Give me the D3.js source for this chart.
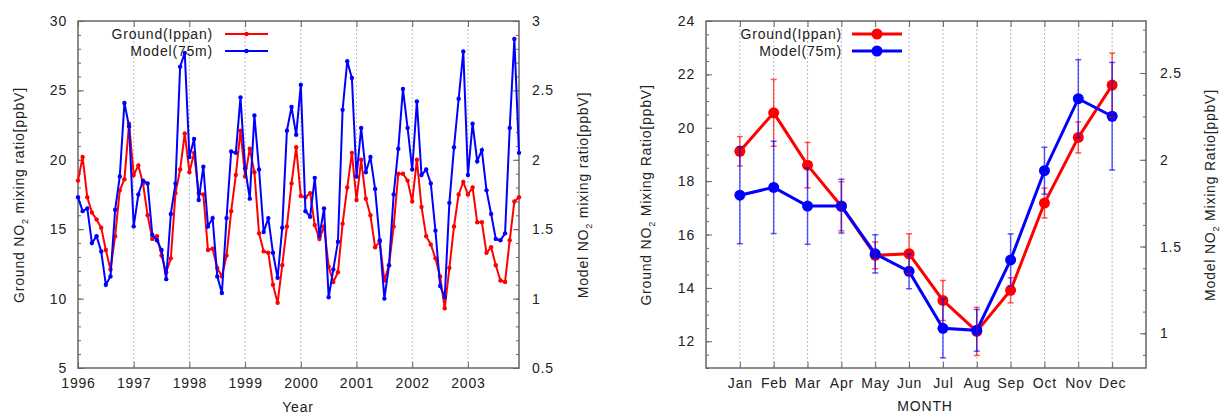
<!DOCTYPE html>
<html><head><meta charset="utf-8">
<script src="https://cdn.jsdelivr.net/npm/d3@7"></script>
<style>
body{margin:0;background:#fff;}
svg text{font-family:"Liberation Sans",Arial,sans-serif;font-size:14px;fill:#222;letter-spacing:0.8px;}
</style></head><body>
<svg id="c" width="1222" height="414"></svg>
<script>
// ---------- data ----------
const yearTicks = [1996,1997,1998,1999,2000,2001,2002,2003];
const groundYTicks = [5,10,15,20,25,30];
const modelYTicks = [0.5,1,1.5,2,2.5,3];
// monthly series Jan 1996 .. Dec 2003
const groundSeries = [
 18.5,20.2,17.3,16.2,15.7,15.1,13.5,12.1,14.5,17.8,18.6,22.6,
 18.9,19.6,18.3,16.0,14.3,14.5,13.1,11.9,12.9,17.6,19.3,21.9,
 19.1,20.5,17.6,17.5,13.5,13.6,12.2,11.6,13.1,16.3,18.9,22.1,
 18.8,20.8,19.1,14.7,13.4,13.3,11.0,9.7,12.4,15.2,18.3,20.9,
 17.4,17.3,17.6,15.3,14.3,15.2,12.3,11.2,11.9,15.4,18.0,20.5,
 17.1,20.0,17.2,16.0,13.7,14.1,11.3,12.4,15.2,19.0,19.0,18.5,
 17.0,20.0,16.6,14.5,13.9,12.9,11.6,9.3,12.2,15.2,17.5,18.4,
 17.5,18.0,15.5,15.5,13.3,13.7,12.4,11.3,11.2,14.2,17.0,17.3
];
const modelSeries = [
 1.73,1.63,1.65,1.40,1.45,1.34,1.10,1.16,1.64,1.88,2.41,2.24,
 1.52,1.75,1.85,1.83,1.46,1.42,1.35,1.14,1.61,1.83,2.67,2.77,
 2.02,2.15,1.71,1.95,1.52,1.58,1.16,1.04,1.58,2.06,2.05,2.45,
 1.94,1.72,2.32,1.93,1.48,1.58,1.33,1.15,1.51,2.21,2.38,2.18,
 2.54,1.63,1.59,1.87,1.45,1.65,1.01,1.21,1.41,2.36,2.71,2.59,
 1.88,2.23,1.91,2.02,1.79,1.42,1.00,1.24,1.75,2.08,2.51,2.23,
 1.93,2.42,1.89,1.93,1.83,1.49,1.09,1.01,1.69,2.09,2.44,2.78,
 1.89,2.26,1.99,2.07,1.78,1.61,1.43,1.42,1.47,2.23,2.87,2.05
];
const months = ["Jan","Feb","Mar","Apr","May","Jun","Jul","Aug","Sep","Oct","Nov","Dec"];
const groundMonthly = [19.12,20.56,18.6,17.06,15.22,15.28,13.53,12.37,13.91,17.18,19.64,21.6];
const groundMonthlyErr = [0.55,1.25,0.85,0.92,0.5,0.75,0.75,0.9,0.47,0.56,0.58,1.2];
const modelMonthly = [1.796,1.841,1.733,1.733,1.458,1.357,1.029,1.017,1.423,1.937,2.352,2.251];
const modelMonthlyErr = [0.28,0.266,0.22,0.155,0.11,0.1,0.17,0.12,0.15,0.135,0.225,0.31];
const groundMonthTicks = [12,14,16,18,20,22,24];
const modelMonthTicks = [1,1.5,2,2.5];

// ---------- helpers ----------
const RED = "#ff0000", BLUE = "#0000ff", FRAME = "#666";
const svg = d3.select("#c");

function styleAxis(g){
  g.select(".domain").remove();
  g.selectAll(".tick line").attr("stroke",FRAME).attr("stroke-width",1);
  g.selectAll(".tick text").attr("fill","#222");
}
function ylabel(x,y,pre,post){
  const t = svg.append("text").attr("transform",`translate(${x},${y}) rotate(-90)`)
    .attr("text-anchor","middle").attr("dy","0.35em");
  t.append("tspan").text(pre+"NO");
  t.append("tspan").text("2").attr("font-size","9px").attr("dy","4");
  t.append("tspan").text(post).attr("dy","-4");
}

// ---------- left chart ----------
(function(){
  const x0=78,x1=519,y0=21,y1=368;
  const x = d3.scaleLinear().domain([1996,1996+95/12]).range([x0,x1]);
  const y = d3.scaleLinear().domain([5,30]).range([y1,y0]);
  const y2 = d3.scaleLinear().domain([0.5,3]).range([y1,y0]);
  const g = svg.append("g");
  // grid
  g.selectAll(".grid").data(yearTicks.slice(1)).join("line")
    .attr("x1",d=>x(d)).attr("x2",d=>x(d)).attr("y1",y0).attr("y2",y1)
    .attr("stroke","#bbb").attr("stroke-dasharray","2,2").attr("stroke-width",1);
  // axes
  g.append("g").attr("transform",`translate(${x0},0)`)
    .call(d3.axisLeft(y).tickValues(d3.range(5,31,1)).tickSize(-3).tickFormat("")).call(styleAxis);
  g.append("g").attr("transform",`translate(${x0},0)`)
    .call(d3.axisLeft(y).tickValues(groundYTicks).tickSize(-6).tickPadding(11).tickFormat(d3.format("d"))).call(styleAxis);
  g.append("g").attr("transform",`translate(${x1},0)`)
    .call(d3.axisRight(y2).tickValues(d3.range(5,31,1).map(v=>v/10)).tickSize(-3).tickFormat("")).call(styleAxis);
  g.append("g").attr("transform",`translate(${x1},0)`)
    .call(d3.axisRight(y2).tickValues(modelYTicks).tickSize(-6).tickPadding(13).tickFormat(d=>String(d))).call(styleAxis);
  g.append("g").attr("transform",`translate(0,${y1})`)
    .call(d3.axisBottom(x).tickValues(yearTicks).tickSize(-6).tickPadding(10).tickFormat(d3.format("d"))).call(styleAxis);
  g.append("g").attr("transform",`translate(0,${y0})`)
    .call(d3.axisTop(x).tickValues(yearTicks).tickSize(-6).tickFormat("")).call(styleAxis);
  g.append("rect").attr("x",x0).attr("y",y0).attr("width",x1-x0).attr("height",y1-y0)
    .attr("fill","none").attr("stroke",FRAME).attr("stroke-width",1.5);
  // series
  const xt = (d,i)=>x(1996+i/12);
  const lineG = d3.line().x(xt).y(d=>y(d));
  const lineM = d3.line().x(xt).y(d=>y2(d));
  g.append("path").datum(groundSeries).attr("d",lineG).attr("fill","none").attr("stroke",RED).attr("stroke-width",2);
  g.selectAll(".pg").data(groundSeries).join("circle").attr("cx",xt).attr("cy",d=>y(d)).attr("r",2.2).attr("fill",RED);
  g.append("path").datum(modelSeries).attr("d",lineM).attr("fill","none").attr("stroke",BLUE).attr("stroke-width",2);
  g.selectAll(".pm").data(modelSeries).join("circle").attr("cx",xt).attr("cy",d=>y2(d)).attr("r",2.2).attr("fill",BLUE);
  // legend
  [["Ground(Ippan)",RED,34],["Model(75m)",BLUE,51]].forEach(([t,c,yy])=>{
    g.append("text").attr("x",213).attr("y",yy).attr("dy","0.35em").attr("text-anchor","end").text(t);
    g.append("line").attr("x1",225).attr("x2",268).attr("y1",yy).attr("y2",yy).attr("stroke",c).attr("stroke-width",2);
    g.append("circle").attr("cx",246.5).attr("cy",yy).attr("r",2.2).attr("fill",c);
  });
  ylabel(19,195,"Ground "," mixing ratio[ppbV]");
  ylabel(583,195,"Model "," mixing ratio[ppbV]");
  svg.append("text").attr("x",298).attr("y",412).attr("text-anchor","middle").text("Year");
})();

// ---------- right chart ----------
(function(){
  const x0=706,x1=1146,y0=21,y1=368;
  const x = d3.scaleLinear().domain([0,13]).range([x0,x1]);
  const y = d3.scaleLinear().domain([11,24]).range([y1,y0]);
  const y2 = d3.scaleLinear().domain([0.8,2.8]).range([y1,y0]);
  const g = svg.append("g");
  const mi = d3.range(1,13);
  g.selectAll(".grid").data(mi).join("line")
    .attr("x1",d=>x(d)).attr("x2",d=>x(d)).attr("y1",y0).attr("y2",y1)
    .attr("stroke","#bbb").attr("stroke-dasharray","2,2").attr("stroke-width",1);
  g.append("g").attr("transform",`translate(${x0},0)`)
    .call(d3.axisLeft(y).tickValues(d3.range(11,24.01,0.5)).tickSize(-3).tickFormat("")).call(styleAxis);
  g.append("g").attr("transform",`translate(${x0},0)`)
    .call(d3.axisLeft(y).tickValues(groundMonthTicks).tickSize(-6).tickPadding(11).tickFormat(d3.format("d"))).call(styleAxis);
  g.append("g").attr("transform",`translate(${x1},0)`)
    .call(d3.axisRight(y2).tickValues(d3.range(7,23).map(v=>v*0.125)).tickSize(-3).tickFormat("")).call(styleAxis);
  g.append("g").attr("transform",`translate(${x1},0)`)
    .call(d3.axisRight(y2).tickValues(modelMonthTicks).tickSize(-6).tickPadding(14).tickFormat(d=>String(d))).call(styleAxis);
  g.append("g").attr("transform",`translate(0,${y1})`)
    .call(d3.axisBottom(x).tickValues(mi).tickSize(-6).tickPadding(10).tickFormat(d=>months[d-1])).call(styleAxis);
  g.append("g").attr("transform",`translate(0,${y0})`)
    .call(d3.axisTop(x).tickValues(mi).tickSize(-6).tickFormat("")).call(styleAxis);
  g.append("rect").attr("x",x0).attr("y",y0).attr("width",x1-x0).attr("height",y1-y0)
    .attr("fill","none").attr("stroke",FRAME).attr("stroke-width",1.5);
  const xt = (d,i)=>x(i+1);
  g.append("path").datum(groundMonthly).attr("d",d3.line().x(xt).y(d=>y(d)))
    .attr("fill","none").attr("stroke",RED).attr("stroke-width",3);
  g.selectAll(".pg").data(groundMonthly).join("circle").attr("cx",xt).attr("cy",d=>y(d)).attr("r",5.5).attr("fill",RED);
  g.append("path").datum(modelMonthly).attr("d",d3.line().x(xt).y(d=>y2(d)))
    .attr("fill","none").attr("stroke",BLUE).attr("stroke-width",3);
  g.selectAll(".pm").data(modelMonthly).join("circle").attr("cx",xt).attr("cy",d=>y2(d)).attr("r",5.5).attr("fill",BLUE);
  function errbars(vals,errs,sc,col){
    const e = g.append("g").attr("stroke",col).attr("stroke-width",1.5).attr("stroke-opacity",0.65);
    vals.forEach((v,i)=>{
      const cx = x(i+1), ya = sc(v+errs[i]), yb = sc(v-errs[i]);
      e.append("line").attr("x1",cx).attr("x2",cx).attr("y1",ya).attr("y2",yb);
      e.append("line").attr("x1",cx-3).attr("x2",cx+3).attr("y1",ya).attr("y2",ya);
      e.append("line").attr("x1",cx-3).attr("x2",cx+3).attr("y1",yb).attr("y2",yb);
    });
  }
  errbars(groundMonthly,groundMonthlyErr,y,RED);
  errbars(modelMonthly,modelMonthlyErr,y2,BLUE);
  [["Ground(Ippan)",RED,34],["Model(75m)",BLUE,51]].forEach(([t,c,yy])=>{
    g.append("text").attr("x",842).attr("y",yy).attr("dy","0.35em").attr("text-anchor","end").text(t);
    g.append("line").attr("x1",852).attr("x2",902).attr("y1",yy).attr("y2",yy).attr("stroke",c).attr("stroke-width",3);
    g.append("circle").attr("cx",877).attr("cy",yy).attr("r",5.5).attr("fill",c);
  });
  ylabel(646,195,"Ground "," Mixing Ratio[ppbV]");
  ylabel(1210,195,"Model "," Mixing Ratio[ppbV]");
  svg.append("text").attr("x",925).attr("y",411).attr("text-anchor","middle").text("MONTH");
})();
</script>
</body></html>
